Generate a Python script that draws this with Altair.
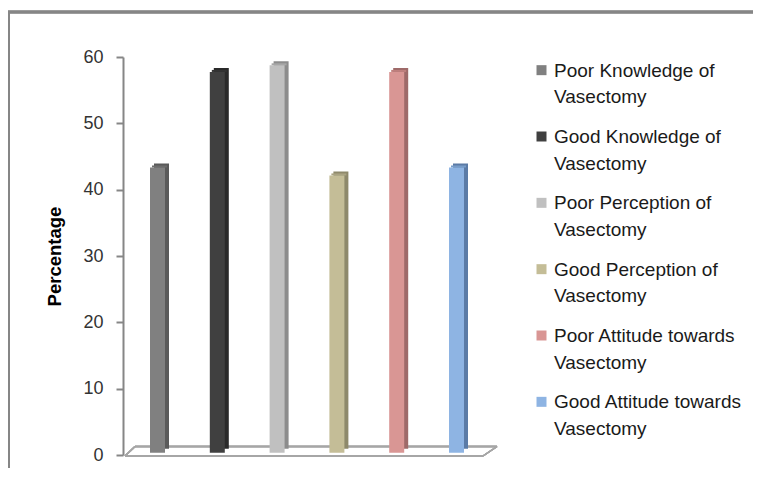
import altair as alt
import pandas as pd

categories = [
    "Poor Knowledge of Vasectomy",
    "Good Knowledge of Vasectomy",
    "Poor Perception of Vasectomy",
    "Good Perception of Vasectomy",
    "Poor Attitude towards Vasectomy",
    "Good Attitude towards Vasectomy",
]
values = [43.0, 57.4, 58.4, 41.8, 57.4, 43.0]
y_ticks = [0, 10, 20, 30, 40, 50, 60]

front_colors = ["#808080", "#404040", "#C0C0C0", "#C4BD97", "#D99694", "#8EB4E3"]
side_colors = ["#5A5A5A", "#2A2A2A", "#8C8C8C", "#8E896B", "#9E6A69", "#5B7BA6"]
top_colors = ["#6C6C6C", "#333333", "#A6A6A6", "#A9A382", "#BE7F7D", "#779CC8"]

df = pd.DataFrame({"Category": categories, "Value": values,
                   "Side": side_colors, "Top": top_colors})

FONT = "Liberation Sans"
base = alt.Chart(df)

x_enc = alt.X("Category:N", sort=categories, axis=None,
              scale=alt.Scale(paddingInner=0, paddingOuter=0.077))
y_scale = alt.Scale(domain=[0, 60], nice=False)
color_front = alt.Color("Category:N", sort=categories,
                        scale=alt.Scale(domain=categories, range=front_colors),
                        legend=None)

border = base.mark_rect(fillOpacity=0, stroke="#868686", strokeWidth=2.5).encode(
    x=alt.value(-114.5), x2=alt.value(900), y=alt.value(-45), y2=alt.value(700)
)

floor_style = dict(color="#A6A6A6", strokeWidth=1.5)
floor_front = base.mark_rule(**floor_style).encode(
    x=alt.value(2), x2=alt.value(360), y=alt.value(399), y2=alt.value(399))
floor_back = base.mark_rule(**floor_style).encode(
    x=alt.value(12), x2=alt.value(374), y=alt.value(389.5), y2=alt.value(389.5))
floor_left = base.mark_rule(**floor_style).encode(
    x=alt.value(2), x2=alt.value(12), y=alt.value(399), y2=alt.value(389.5))
floor_right = base.mark_rule(**floor_style).encode(
    x=alt.value(360), x2=alt.value(374), y=alt.value(399), y2=alt.value(389.5))

side = base.mark_bar(size=15, xOffset=4, yOffset=-6.3, y2Offset=-6.3).encode(
    x=x_enc,
    y=alt.Y("Value:Q", scale=y_scale, axis=None),
    color=alt.Color("Side:N", scale=None),
)
top = base.mark_bar(size=15, xOffset=2, yOffset=-4.3, y2Offset=-2.3).encode(
    x=x_enc,
    y=alt.Y("Value:Q", scale=y_scale, axis=None),
    y2="Value:Q",
    color=alt.Color("Top:N", scale=None),
)
front = base.mark_bar(size=15, yOffset=-2.3, y2Offset=-2.3).encode(
    x=x_enc,
    y=alt.Y("Value:Q", scale=y_scale,
            axis=alt.Axis(values=y_ticks, title="Percentage", grid=False,
                          domainColor="#868686", domainWidth=2,
                          tickColor="#868686", tickWidth=2, tickSize=7,
                          labelPadding=13, labelFontSize=18, labelFont=FONT,
                          labelColor="#333333", titleFont=FONT,
                          titleFontSize=18.5, titleFontWeight="bold",
                          titleColor="#000000", titlePadding=18)),
    color=color_front,
)

leg_y = alt.Y("Category:N", sort=categories, axis=None,
              scale=alt.Scale(paddingInner=0, paddingOuter=0))
leg_sym = base.mark_square(size=100, opacity=1, yOffset=-20).encode(
    x=alt.value(418.5), y=leg_y, color=color_front)
leg_text = base.transform_calculate(
    lines="replace(datum.Category, ' Vasectomy', '|Vasectomy')"
).mark_text(align="left", baseline="alphabetic", fontSize=19, font=FONT,
            lineHeight=26.7, lineBreak="|", color="#1A1A1A", dy=-13.5).encode(
    x=alt.value(431), y=leg_y, text="lines:N")

chart = alt.layer(
    border, floor_front, floor_back, floor_left, floor_right,
    side, top, front, leg_sym, leg_text
).resolve_scale(y="independent").properties(
    width=368, height=398,
    padding={"left": 115, "top": 49, "right": 262, "bottom": 13},
    autosize=alt.AutoSizeParams(type="none"),
    background="white",
).configure_view(stroke=None)

chart.save("out.html", embed_options={"renderer": "svg", "actions": False})
